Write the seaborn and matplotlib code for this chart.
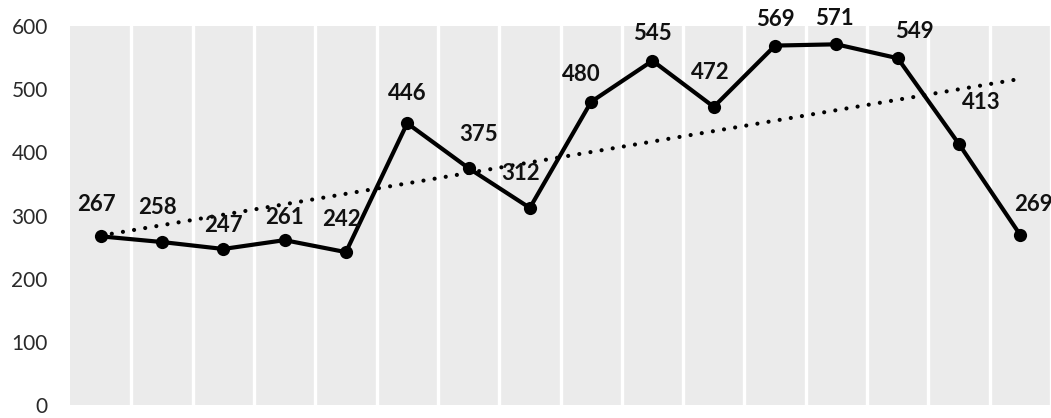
import numpy as np
import pandas as pd
import matplotlib
matplotlib.use("Agg")
import matplotlib.pyplot as plt
import seaborn as sns

# Monthly series (16 periods) and its labels
periods = list(range(16))
values = [267, 258, 247, 261, 242, 446, 375, 312, 480, 545, 472, 569, 571, 549, 413, 269]
y_ticks = [0, 100, 200, 300, 400, 500, 600]

# Per-label nudges (pixels) so the value labels avoid the lines
label_dx = [-4, -4, 0, 0, -4, 0, 10, -9, -10, 0, -4, 0, -2, 17, 22, 13]
label_dy = [32, 35, 23, 23, 33, 30, 34, 34, 27, 27, 34, 26, 26, 27, 42, 31]

df = pd.DataFrame({"period": periods, "value": values})

sns.set_theme(style="white")
plt.rcParams["font.family"] = ["Lato", "DejaVu Sans"]

fig = plt.figure(figsize=(10.51, 4.18), dpi=100)
ax = fig.add_axes([70 / 1051, 1 - 405 / 418, 1 - 70 / 1051, (405 - 26) / 418])
ax.set_facecolor("#ebebeb")

# White separators between periods
ax.set_xticks(np.arange(0.5, 16, 1.0), minor=True)
ax.grid(True, which="minor", axis="x", color="white", linewidth=2.4)
ax.grid(False, which="major")
ax.set_axisbelow(True)

# Linear trend
sns.regplot(data=df, x="period", y="value", scatter=False, ci=None, ax=ax,
            line_kws=dict(color="black", linewidth=3.0, linestyle=(0, (0.01, 2.7)),
                          dash_capstyle="round"))

# Main series
sns.lineplot(data=df, x="period", y="value", ax=ax, color="black", linewidth=3,
             marker="o", markersize=9.5, markeredgewidth=0)

for x, v, dx, dy in zip(periods, values, label_dx, label_dy):
    ax.annotate(f"{v}", xy=(x, v), xytext=(dx, dy), textcoords="offset pixels",
                ha="center", va="center", fontsize=16, fontweight="bold",
                color="#111111", annotation_clip=False)

ax.set_xlim(-0.5, 15.5)
ax.set_ylim(0, 600)
ax.set_yticks(y_ticks)
ax.set_xticks([])
ax.tick_params(axis="y", length=0, pad=16, labelsize=15, labelcolor="#2a2a2a")
ax.set_xlabel("")
ax.set_ylabel("")
for s in ax.spines.values():
    s.set_visible(False)

fig.savefig("out.png", dpi=100)
